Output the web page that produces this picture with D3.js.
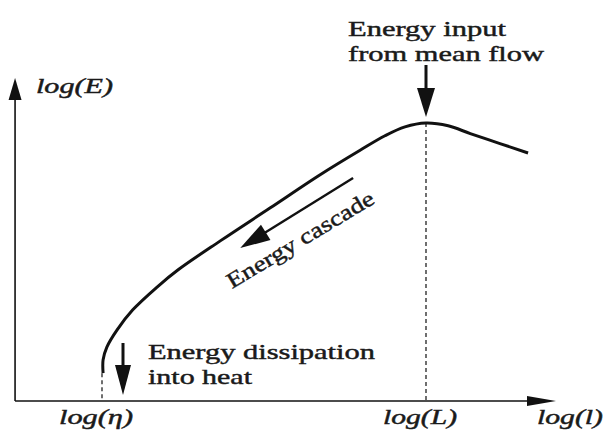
<!DOCTYPE html>
<html>
<head>
<meta charset="utf-8">
<script src="https://cdn.jsdelivr.net/npm/d3@7"></script>
<style>
  body { margin: 0; background: #fff; }
  text { font-family: "Liberation Serif", "DejaVu Serif", serif; fill: #1a1a1a; stroke: #1a1a1a; stroke-width: 0.45; }
</style>
</head>
<body>
<script>
// spectrum, in log units (x: log l, y: log E)
let curveX = [1.02, 1.02, 1.09, 1.28, 1.57, 2.02, 2.41, 3.19, 4.11, 5.04, 5.78, 6.24, 6.61, 7.0, 7.41, 7.82, 8.37, 8.89]
let curveY = [0.5, 0.74, 0.97, 1.28, 1.64, 2.05, 2.36, 2.88, 3.47, 4.07, 4.51, 4.77, 4.93, 5.0, 4.95, 4.81, 4.63, 4.46]

let tickValues = [1, 7]
let tickLabels = ['log(\u03b7)', 'log(L)']
let axisLabels = ['log(l)', 'log(E)']

let inputText = ['Energy input', 'from mean flow']
let dissipText = ['Energy dissipation', 'into heat']
let cascadeText = 'Energy cascade'
// cascade arrow, start and end in data units
let cascadeFrom = [5.65, 4.01]
let cascadeTo = [3.56, 2.75]

let W = 606, H = 432
let x = d3.scaleLinear().domain([1, 7]).range([102, 426])
let y = d3.scaleLinear().domain([0, 5]).range([401, 123])
let x0 = x(-0.61), y0 = y(0)

let svg = d3.select('body').append('svg').attr('width', W).attr('height', H)

function arrow (x1, y1, x2, y2, len, half, sw) {
  let dx = x2 - x1, dy = y2 - y1
  let d = Math.sqrt(dx * dx + dy * dy)
  let ux = dx / d, uy = dy / d
  let bx = x2 - ux * len, by = y2 - uy * len
  svg.append('line').attr('x1', x1).attr('y1', y1).attr('x2', bx + ux * 2).attr('y2', by + uy * 2)
    .attr('stroke', '#111').attr('stroke-width', sw)
  svg.append('path')
    .attr('d', 'M' + x2 + ',' + y2 + 'L' + (bx - uy * half) + ',' + (by + ux * half) +
      'L' + (bx + uy * half) + ',' + (by - ux * half) + 'Z')
    .attr('fill', '#111')
}

// axes
arrow(x0, y0, 556, y0, 29, 5, 1.6)
arrow(x0, y0, x0, 78, 22, 6.5, 1.6)

// dashed guides
tickValues.forEach(function (v, i) {
  let top = i == 0 ? y(curveY[0]) : y(5)
  svg.append('line').attr('x1', x(v)).attr('x2', x(v)).attr('y1', top).attr('y2', y0)
    .attr('stroke', '#222').attr('stroke-width', 1.3).attr('stroke-dasharray', '4,3')
})

// spectrum curve
let pts = curveX.map(function (d, i) { return [x(d), y(curveY[i])] })
svg.append('path')
  .attr('d', d3.line().curve(d3.curveCatmullRom.alpha(0.5))(pts))
  .attr('fill', 'none').attr('stroke', '#111').attr('stroke-width', 3)

// tick labels
tickLabels.forEach(function (t, i) {
  svg.append('text').attr('x', x(tickValues[i]) - 6).attr('y', 424)
    .attr('text-anchor', 'middle').attr('font-style', 'italic').attr('font-size', 21)
    .attr('textLength', 74).attr('lengthAdjust', 'spacingAndGlyphs').text(t)
})
svg.append('text').attr('x', 537).attr('y', 424).attr('font-style', 'italic').attr('font-size', 21)
  .attr('textLength', 66).attr('lengthAdjust', 'spacingAndGlyphs').text(axisLabels[0])
svg.append('text').attr('x', 36).attr('y', 93).attr('font-style', 'italic').attr('font-size', 21)
  .attr('textLength', 77).attr('lengthAdjust', 'spacingAndGlyphs').text(axisLabels[1])

// energy input
arrow(x(7), 65, x(7), y(5) - 6, 29, 9, 3)
svg.append('text').attr('x', 348).attr('y', 36).attr('font-size', 22)
  .attr('textLength', 158).attr('lengthAdjust', 'spacingAndGlyphs').text(inputText[0])
svg.append('text').attr('x', 348).attr('y', 61).attr('font-size', 22)
  .attr('textLength', 196).attr('lengthAdjust', 'spacingAndGlyphs').text(inputText[1])

// dissipation
arrow(x(1) + 21, 343, x(1) + 21, 395, 30, 8, 3)
svg.append('text').attr('x', 148).attr('y', 359).attr('font-size', 22)
  .attr('textLength', 227).attr('lengthAdjust', 'spacingAndGlyphs').text(dissipText[0])
svg.append('text').attr('x', 148).attr('y', 384).attr('font-size', 22)
  .attr('textLength', 104).attr('lengthAdjust', 'spacingAndGlyphs').text(dissipText[1])

// cascade
arrow(x(cascadeFrom[0]), y(cascadeFrom[1]), x(cascadeTo[0]), y(cascadeTo[1]), 30, 9, 2.4)
svg.append('text').attr('transform', 'translate(232,289) rotate(-31)').attr('font-size', 22)
  .attr('textLength', 168).attr('lengthAdjust', 'spacingAndGlyphs').text(cascadeText)
</script>
</body>
</html>
